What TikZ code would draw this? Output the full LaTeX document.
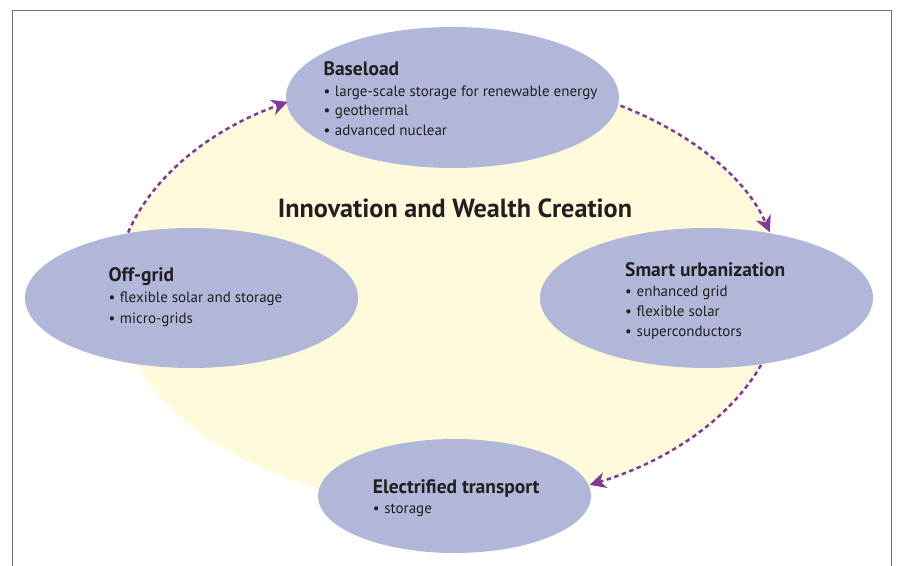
\documentclass[tikz,border=0pt]{standalone}
\usepackage{fontspec}
\setmainfont{PT Sans}
\usetikzlibrary{shapes.geometric,arrows.meta,calc}

\definecolor{hubyellow}{RGB}{255,250,220}
\definecolor{topicblue}{RGB}{176,183,216}
\definecolor{flowpurple}{RGB}{125,58,150}
\definecolor{inkdark}{RGB}{35,31,32}
\definecolor{framegray}{RGB}{110,110,110}

% bullet item with a fixed hanging indent
\newcommand{\itm}[1]{\makebox[11.5pt][l]{\textbullet}#1}

\begin{document}
\begin{tikzpicture}[x=1pt,y=1pt,
  topic/.style={ellipse, fill=topicblue, inner sep=0pt},
  head/.style={anchor=base west, inner sep=0pt, text=inkdark,
    font=\fontsize{19.5}{22}\selectfont\bfseries},
  item/.style={anchor=base west, inner sep=0pt, text=inkdark,
    font=\fontsize{15}{18}\selectfont},
  flow/.style={draw=flowpurple, line width=2.5pt,
    dash pattern=on 4.5pt off 3.5pt,
    -{Stealth[length=16pt,width=16pt,inset=5pt,flowpurple]}}
]
\useasboundingbox (0,0) rectangle (897,565);

% open frame
\draw[framegray, line width=1.5pt] (12.5,-5) -- (12.5,554.5) -- (891.5,554.5) -- (891.5,-5);

% central field
\node[ellipse, fill=hubyellow, minimum width=666pt, minimum height=430pt, inner sep=0pt] (hub) at (449,275) {};
\node[anchor=base, inner sep=0pt, text=inkdark, font=\fontsize{26.2}{30}\selectfont\bfseries]
  (title) at (455,347.7) {Innovation and Wealth Creation};

% start points of the cycle arrows on the rim of the central field
\coordinate (f1s) at ($(hub)+(164.5:333 and 215)$);
\coordinate (f2s) at ($(hub)+(59:333 and 215)$);
\coordinate (f3s) at ($(hub)+(-20.4:333 and 215)$);

% topic ellipses
\node[topic, minimum width=333pt, minimum height=141pt] (base) at (452.5,467.5) {};
\node[topic, minimum width=333pt, minimum height=140pt] (offgrid) at (191.5,267) {};
\node[topic, minimum width=333pt, minimum height=140pt] (smart) at (706.5,267) {};
\node[topic, minimum width=273pt, minimum height=114pt] (trans) at (454.5,69) {};

% cycle arrows
\draw[flow] (f1s) arc[start angle=164.5, end angle=119, x radius=333, y radius=215];
\draw[flow] (f2s) arc[start angle=59, end angle=15.6, x radius=333, y radius=215];
\draw[flow] (f3s) arc[start angle=-20.4, end angle=-65, x radius=333, y radius=215];

% Baseload
\node[head] (baseh) at (323.3,489) {Baseload};
\node[item] (base1) at (323.3,468.5) {\itm{large-scale storage for renewable energy}};
\node[item] (base2) at (323.3,449) {\itm{geothermal}};
\node[item] (base3) at (323.3,429.5) {\itm{advanced nuclear}};

% Off-grid
\node[head] (offh) at (108.3,283.3) {Off-grid};
\node[item] (off1) at (108.3,262.7) {\itm{flexible solar and storage}};
\node[item] (off2) at (108.3,241.7) {\itm{micro-grids}};

% Smart urbanization
\node[head] (smarth) at (625,288.3) {Smart urbanization};
\node[item] (smart1) at (625,268.3) {\itm{enhanced grid}};
\node[item] (smart2) at (625,248.3) {\itm{flexible solar}};
\node[item] (smart3) at (625,228.3) {\itm{superconductors}};

% Electrified transport
\node[head] (transh) at (372.7,71.7) {Electrified transport};
\node[item] (trans1) at (372.7,51.7) {\itm{storage}};
\end{tikzpicture}
\end{document}
